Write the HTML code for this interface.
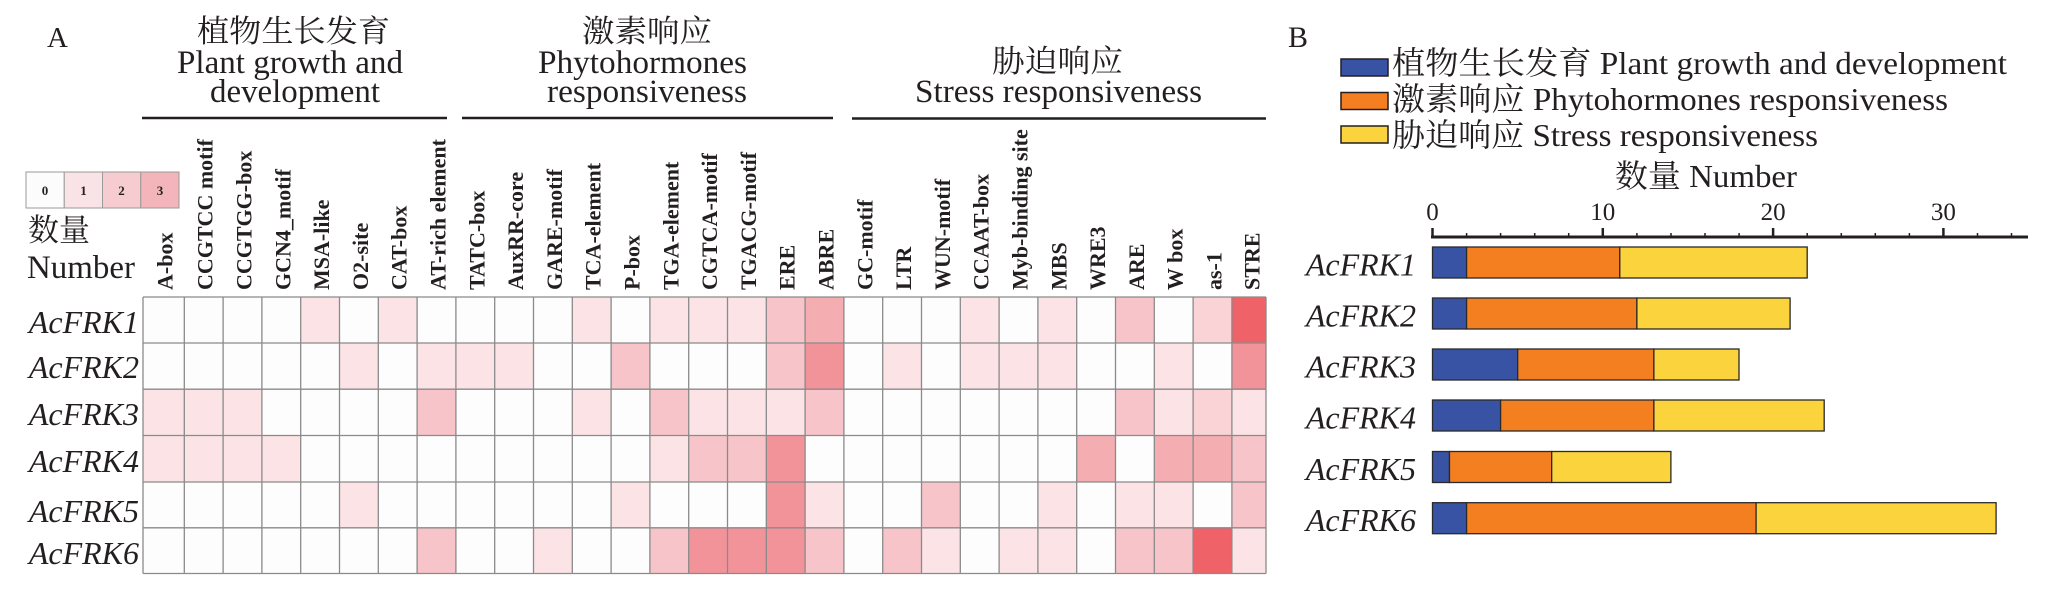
<!DOCTYPE html>
<html><head><meta charset="utf-8"><style>
html,body{margin:0;padding:0;background:#fff;}
svg{display:block;}
text{font-family:"Liberation Serif","Noto Serif CJK SC",serif;fill:#231f20;}
.cl{font-weight:bold;font-size:22px;}
.rl{font-style:italic;font-size:32px;}
.hd{font-size:33px;}
.cj{font-size:31px;}
</style></head><body>
<svg width="2046" height="598" viewBox="0 0 2046 598" xmlns="http://www.w3.org/2000/svg">
<rect width="2046" height="598" fill="#fff"/>
<!-- Panel A -->
<text x="47" y="47" font-size="29">A</text>
<!-- group headers -->
<text class="cj" x="197" y="42" textLength="193" lengthAdjust="spacingAndGlyphs">植物生长发育</text>
<text class="hd" x="290" y="73" text-anchor="middle" textLength="226" lengthAdjust="spacingAndGlyphs">Plant growth and</text>
<text class="hd" x="295" y="102" text-anchor="middle" textLength="170" lengthAdjust="spacingAndGlyphs">development</text>
<text class="cj" x="582" y="42" textLength="130" lengthAdjust="spacingAndGlyphs">激素响应</text>
<text class="hd" x="642.5" y="73" text-anchor="middle" textLength="209" lengthAdjust="spacingAndGlyphs">Phytohormones</text>
<text class="hd" x="647" y="102" text-anchor="middle" textLength="200" lengthAdjust="spacingAndGlyphs">responsiveness</text>
<text class="cj" x="992" y="72" textLength="131" lengthAdjust="spacingAndGlyphs">胁迫响应</text>
<text class="hd" x="1058.5" y="102" text-anchor="middle" textLength="287" lengthAdjust="spacingAndGlyphs">Stress responsiveness</text>
<g stroke="#231f20" stroke-width="2.5">
<line x1="142" y1="118" x2="447" y2="118"/>
<line x1="462" y1="118" x2="833" y2="118"/>
<line x1="852" y1="118.5" x2="1266" y2="118.5"/>
</g>
<!-- legend A -->
<g stroke="#9a9a9a" stroke-width="1">
<rect x="26" y="172" width="38.25" height="36" fill="#fdfcfc"/>
<rect x="64.25" y="172" width="38.25" height="36" fill="#fae3e6"/>
<rect x="102.5" y="172" width="38.25" height="36" fill="#f6ccd0"/>
<rect x="140.75" y="172" width="38.25" height="36" fill="#f3b5b9"/>
</g>
<g font-size="13" font-weight="bold" text-anchor="middle">
<text x="45" y="195">0</text><text x="83.5" y="195">1</text><text x="121.5" y="195">2</text><text x="160" y="195">3</text>
</g>
<text class="cj" x="28" y="241" textLength="62" lengthAdjust="spacingAndGlyphs">数量</text>
<text x="27" y="278" font-size="33" textLength="108" lengthAdjust="spacingAndGlyphs">Number</text>
<!-- column labels -->
<g class="cl">
<text transform="translate(172.6,290) rotate(-90)">A-box</text>
<text transform="translate(212.7,290) rotate(-90)">CCGTCC motif</text>
<text transform="translate(251.5,290) rotate(-90)">CCGTGG-box</text>
<text transform="translate(290.3,290) rotate(-90)">GCN4_motif</text>
<text transform="translate(329.1,290) rotate(-90)">MSA-like</text>
<text transform="translate(367.9,290) rotate(-90)">O2-site</text>
<text transform="translate(406.7,290) rotate(-90)">CAT-box</text>
<text transform="translate(445.5,290) rotate(-90)">AT-rich element</text>
<text transform="translate(484.3,290) rotate(-90)">TATC-box</text>
<text transform="translate(523.1,290) rotate(-90)">AuxRR-core</text>
<text transform="translate(561.9,290) rotate(-90)">GARE-motif</text>
<text transform="translate(600.7,290) rotate(-90)">TCA-element</text>
<text transform="translate(639.5,290) rotate(-90)">P-box</text>
<text transform="translate(678.3,290) rotate(-90)">TGA-element</text>
<text transform="translate(717.1,290) rotate(-90)">CGTCA-motif</text>
<text transform="translate(755.9,290) rotate(-90)">TGACG-motif</text>
<text transform="translate(794.7,290) rotate(-90)">ERE</text>
<text transform="translate(833.5,290) rotate(-90)">ABRE</text>
<text transform="translate(872.3,290) rotate(-90)">GC-motif</text>
<text transform="translate(911.1,290) rotate(-90)">LTR</text>
<text transform="translate(949.9,290) rotate(-90)">WUN-motif</text>
<text transform="translate(988.7,290) rotate(-90)">CCAAT-box</text>
<text transform="translate(1027.5,290) rotate(-90)">Myb-binding site</text>
<text transform="translate(1066.3,290) rotate(-90)">MBS</text>
<text transform="translate(1105.1,290) rotate(-90)">WRE3</text>
<text transform="translate(1143.9,290) rotate(-90)">ARE</text>
<text transform="translate(1182.7,290) rotate(-90)">W box</text>
<text transform="translate(1221.5,290) rotate(-90)">as-1</text>
<text transform="translate(1259.5,290) rotate(-90)">STRE</text>
</g>
<!-- row labels A -->
<g class="rl" text-anchor="end">
<text x="139" y="333">AcFRK1</text>
<text x="139" y="378">AcFRK2</text>
<text x="139" y="425">AcFRK3</text>
<text x="139" y="472">AcFRK4</text>
<text x="139" y="522">AcFRK5</text>
<text x="139" y="564">AcFRK6</text>
</g>
<!-- heatmap -->
<rect x="143" y="297" width="1123" height="276.5" fill="#fdfdfd"/>
<g>
<!-- row1 -->
<rect x="300.7" y="297" width="38.8" height="46" fill="#fbe3e6"/>
<rect x="378.3" y="297" width="38.8" height="46" fill="#fbe3e6"/>
<rect x="572.3" y="297" width="38.8" height="46" fill="#fbe3e6"/>
<rect x="649.9" y="297" width="38.8" height="46" fill="#fbe3e6"/>
<rect x="688.7" y="297" width="38.8" height="46" fill="#fbe3e6"/>
<rect x="727.5" y="297" width="38.8" height="46" fill="#fbe3e6"/>
<rect x="766.3" y="297" width="38.8" height="46" fill="#f7c5c9"/>
<rect x="805.1" y="297" width="38.8" height="46" fill="#f4adb1"/>
<rect x="960.3" y="297" width="38.8" height="46" fill="#fbe3e6"/>
<rect x="1037.9" y="297" width="38.8" height="46" fill="#fbe3e6"/>
<rect x="1115.5" y="297" width="38.8" height="46" fill="#f7c5c9"/>
<rect x="1193.1" y="297" width="38.8" height="46" fill="#f9d3d6"/>
<rect x="1231.9" y="297" width="34.1" height="46" fill="#ef6368"/>
<!-- row2 -->
<rect x="339.5" y="343" width="38.8" height="46.2" fill="#fbe3e6"/>
<rect x="417.1" y="343" width="38.8" height="46.2" fill="#fbe3e6"/>
<rect x="455.9" y="343" width="38.8" height="46.2" fill="#fbe3e6"/>
<rect x="494.7" y="343" width="38.8" height="46.2" fill="#fbe3e6"/>
<rect x="611.1" y="343" width="38.8" height="46.2" fill="#f7c5c9"/>
<rect x="766.3" y="343" width="38.8" height="46.2" fill="#f7c5c9"/>
<rect x="805.1" y="343" width="38.8" height="46.2" fill="#f2939a"/>
<rect x="882.7" y="343" width="38.8" height="46.2" fill="#fbe3e6"/>
<rect x="960.3" y="343" width="38.8" height="46.2" fill="#fbe3e6"/>
<rect x="999.1" y="343" width="38.8" height="46.2" fill="#fbe3e6"/>
<rect x="1037.9" y="343" width="38.8" height="46.2" fill="#fbe3e6"/>
<rect x="1154.3" y="343" width="38.8" height="46.2" fill="#fbe3e6"/>
<rect x="1231.9" y="343" width="34.1" height="46.2" fill="#f2939a"/>
<!-- row3 -->
<rect x="143" y="389.2" width="41.3" height="46.3" fill="#fbe3e6"/>
<rect x="184.3" y="389.2" width="38.8" height="46.3" fill="#fbe3e6"/>
<rect x="223.1" y="389.2" width="38.8" height="46.3" fill="#fbe3e6"/>
<rect x="417.1" y="389.2" width="38.8" height="46.3" fill="#f7c5c9"/>
<rect x="572.3" y="389.2" width="38.8" height="46.3" fill="#fbe3e6"/>
<rect x="649.9" y="389.2" width="38.8" height="46.3" fill="#f7c5c9"/>
<rect x="688.7" y="389.2" width="38.8" height="46.3" fill="#fbe3e6"/>
<rect x="727.5" y="389.2" width="38.8" height="46.3" fill="#fbe3e6"/>
<rect x="766.3" y="389.2" width="38.8" height="46.3" fill="#fbe3e6"/>
<rect x="805.1" y="389.2" width="38.8" height="46.3" fill="#f7c5c9"/>
<rect x="1115.5" y="389.2" width="38.8" height="46.3" fill="#f7c5c9"/>
<rect x="1154.3" y="389.2" width="38.8" height="46.3" fill="#fbe3e6"/>
<rect x="1193.1" y="389.2" width="38.8" height="46.3" fill="#f9d3d6"/>
<rect x="1231.9" y="389.2" width="34.1" height="46.3" fill="#fbe3e6"/>
<!-- row4 -->
<rect x="143" y="435.5" width="41.3" height="46.5" fill="#fbe3e6"/>
<rect x="184.3" y="435.5" width="38.8" height="46.5" fill="#fbe3e6"/>
<rect x="223.1" y="435.5" width="38.8" height="46.5" fill="#fbe3e6"/>
<rect x="261.9" y="435.5" width="38.8" height="46.5" fill="#fbe3e6"/>
<rect x="649.9" y="435.5" width="38.8" height="46.5" fill="#fbe3e6"/>
<rect x="688.7" y="435.5" width="38.8" height="46.5" fill="#f7c5c9"/>
<rect x="727.5" y="435.5" width="38.8" height="46.5" fill="#f7c5c9"/>
<rect x="766.3" y="435.5" width="38.8" height="46.5" fill="#f2939a"/>
<rect x="1076.7" y="435.5" width="38.8" height="46.5" fill="#f4adb1"/>
<rect x="1154.3" y="435.5" width="38.8" height="46.5" fill="#f4adb1"/>
<rect x="1193.1" y="435.5" width="38.8" height="46.5" fill="#f4adb1"/>
<rect x="1231.9" y="435.5" width="34.1" height="46.5" fill="#f7c5c9"/>
<!-- row5 -->
<rect x="339.5" y="482" width="38.8" height="45.8" fill="#fbe3e6"/>
<rect x="611.1" y="482" width="38.8" height="45.8" fill="#fbe3e6"/>
<rect x="766.3" y="482" width="38.8" height="45.8" fill="#f2939a"/>
<rect x="805.1" y="482" width="38.8" height="45.8" fill="#fbe3e6"/>
<rect x="921.5" y="482" width="38.8" height="45.8" fill="#f7c5c9"/>
<rect x="1037.9" y="482" width="38.8" height="45.8" fill="#fbe3e6"/>
<rect x="1115.5" y="482" width="38.8" height="45.8" fill="#fbe3e6"/>
<rect x="1154.3" y="482" width="38.8" height="45.8" fill="#fbe3e6"/>
<rect x="1231.9" y="482" width="34.1" height="45.8" fill="#f7c5c9"/>
<!-- row6 -->
<rect x="417.1" y="527.8" width="38.8" height="45.7" fill="#f7c5c9"/>
<rect x="533.5" y="527.8" width="38.8" height="45.7" fill="#fbe3e6"/>
<rect x="649.9" y="527.8" width="38.8" height="45.7" fill="#f7c5c9"/>
<rect x="688.7" y="527.8" width="38.8" height="45.7" fill="#f2939a"/>
<rect x="727.5" y="527.8" width="38.8" height="45.7" fill="#f2939a"/>
<rect x="766.3" y="527.8" width="38.8" height="45.7" fill="#f2939a"/>
<rect x="805.1" y="527.8" width="38.8" height="45.7" fill="#f7c5c9"/>
<rect x="882.7" y="527.8" width="38.8" height="45.7" fill="#f7c5c9"/>
<rect x="921.5" y="527.8" width="38.8" height="45.7" fill="#fbe3e6"/>
<rect x="999.1" y="527.8" width="38.8" height="45.7" fill="#fbe3e6"/>
<rect x="1037.9" y="527.8" width="38.8" height="45.7" fill="#fbe3e6"/>
<rect x="1115.5" y="527.8" width="38.8" height="45.7" fill="#f7c5c9"/>
<rect x="1154.3" y="527.8" width="38.8" height="45.7" fill="#f7c5c9"/>
<rect x="1193.1" y="527.8" width="38.8" height="45.7" fill="#ef6368"/>
<rect x="1231.9" y="527.8" width="34.1" height="45.7" fill="#fbe3e6"/>
</g>
<!-- grid lines -->
<g stroke="#8a8a8a" stroke-width="1.3">
<line x1="143" y1="297" x2="1266" y2="297"/>
<line x1="143" y1="343" x2="1266" y2="343"/>
<line x1="143" y1="389.2" x2="1266" y2="389.2"/>
<line x1="143" y1="435.5" x2="1266" y2="435.5"/>
<line x1="143" y1="482" x2="1266" y2="482"/>
<line x1="143" y1="527.8" x2="1266" y2="527.8"/>
<line x1="143" y1="573.5" x2="1266" y2="573.5"/>
<line x1="143" y1="297" x2="143" y2="573.5"/>
<line x1="184.3" y1="297" x2="184.3" y2="573.5"/>
<line x1="223.1" y1="297" x2="223.1" y2="573.5"/>
<line x1="261.9" y1="297" x2="261.9" y2="573.5"/>
<line x1="300.7" y1="297" x2="300.7" y2="573.5"/>
<line x1="339.5" y1="297" x2="339.5" y2="573.5"/>
<line x1="378.3" y1="297" x2="378.3" y2="573.5"/>
<line x1="417.1" y1="297" x2="417.1" y2="573.5"/>
<line x1="455.9" y1="297" x2="455.9" y2="573.5"/>
<line x1="494.7" y1="297" x2="494.7" y2="573.5"/>
<line x1="533.5" y1="297" x2="533.5" y2="573.5"/>
<line x1="572.3" y1="297" x2="572.3" y2="573.5"/>
<line x1="611.1" y1="297" x2="611.1" y2="573.5"/>
<line x1="649.9" y1="297" x2="649.9" y2="573.5"/>
<line x1="688.7" y1="297" x2="688.7" y2="573.5"/>
<line x1="727.5" y1="297" x2="727.5" y2="573.5"/>
<line x1="766.3" y1="297" x2="766.3" y2="573.5"/>
<line x1="805.1" y1="297" x2="805.1" y2="573.5"/>
<line x1="843.9" y1="297" x2="843.9" y2="573.5"/>
<line x1="882.7" y1="297" x2="882.7" y2="573.5"/>
<line x1="921.5" y1="297" x2="921.5" y2="573.5"/>
<line x1="960.3" y1="297" x2="960.3" y2="573.5"/>
<line x1="999.1" y1="297" x2="999.1" y2="573.5"/>
<line x1="1037.9" y1="297" x2="1037.9" y2="573.5"/>
<line x1="1076.7" y1="297" x2="1076.7" y2="573.5"/>
<line x1="1115.5" y1="297" x2="1115.5" y2="573.5"/>
<line x1="1154.3" y1="297" x2="1154.3" y2="573.5"/>
<line x1="1193.1" y1="297" x2="1193.1" y2="573.5"/>
<line x1="1231.9" y1="297" x2="1231.9" y2="573.5"/>
<line x1="1266" y1="297" x2="1266" y2="573.5"/>
</g>

<!-- Panel B -->
<text x="1288" y="47" font-size="30">B</text>
<g stroke="#231f20" stroke-width="1.5">
<rect x="1341" y="59" width="47" height="17" fill="#3953a4"/>
<rect x="1341" y="92.5" width="47" height="17" fill="#f47f20"/>
<rect x="1341" y="126" width="47" height="17" fill="#fbd33d"/>
</g>
<text x="1392" y="74" font-size="32" textLength="615" lengthAdjust="spacingAndGlyphs">植物生长发育 Plant growth and development</text>
<text x="1392" y="110" font-size="32" textLength="556" lengthAdjust="spacingAndGlyphs">激素响应 Phytohormones responsiveness</text>
<text x="1392" y="146" font-size="32" textLength="426" lengthAdjust="spacingAndGlyphs">胁迫响应 Stress responsiveness</text>
<text x="1615" y="187" font-size="32" textLength="182" lengthAdjust="spacingAndGlyphs">数量 Number</text>
<!-- ticks labels -->
<g font-size="25" text-anchor="middle">
<text x="1432.5" y="220">0</text>
<text x="1602.8" y="220">10</text>
<text x="1773.1" y="220">20</text>
<text x="1943.4" y="220">30</text>
</g>
<!-- axis -->
<g stroke="#231f20">
<line x1="1431" y1="237" x2="2028" y2="237" stroke-width="3"/>
<g stroke-width="2.5">
<line x1="1432.5" y1="228" x2="1432.5" y2="237"/>
<line x1="1602.8" y1="228" x2="1602.8" y2="237"/>
<line x1="1773.1" y1="228" x2="1773.1" y2="237"/>
<line x1="1943.4" y1="228" x2="1943.4" y2="237"/>
</g>
<g stroke-width="1.5">
<line x1="1466.6" y1="233" x2="1466.6" y2="237"/>
<line x1="1500.6" y1="233" x2="1500.6" y2="237"/>
<line x1="1534.7" y1="233" x2="1534.7" y2="237"/>
<line x1="1568.7" y1="233" x2="1568.7" y2="237"/>
<line x1="1636.9" y1="233" x2="1636.9" y2="237"/>
<line x1="1671.0" y1="233" x2="1671.0" y2="237"/>
<line x1="1705.0" y1="233" x2="1705.0" y2="237"/>
<line x1="1739.1" y1="233" x2="1739.1" y2="237"/>
<line x1="1807.2" y1="233" x2="1807.2" y2="237"/>
<line x1="1841.3" y1="233" x2="1841.3" y2="237"/>
<line x1="1875.3" y1="233" x2="1875.3" y2="237"/>
<line x1="1909.4" y1="233" x2="1909.4" y2="237"/>
<line x1="1977.5" y1="233" x2="1977.5" y2="237"/>
<line x1="2011.5" y1="233" x2="2011.5" y2="237"/>
</g>
</g>
<!-- bars -->
<g stroke="#2a2a2a" stroke-width="1.3">
<rect x="1432.5" y="247" width="34.1" height="31" fill="#3953a4"/>
<rect x="1466.6" y="247" width="153.2" height="31" fill="#f47f20"/>
<rect x="1619.8" y="247" width="187.4" height="31" fill="#fbd33d"/>

<rect x="1432.5" y="298" width="34.1" height="31" fill="#3953a4"/>
<rect x="1466.6" y="298" width="170.3" height="31" fill="#f47f20"/>
<rect x="1636.9" y="298" width="153.2" height="31" fill="#fbd33d"/>

<rect x="1432.5" y="349" width="85.2" height="31" fill="#3953a4"/>
<rect x="1517.7" y="349" width="136.2" height="31" fill="#f47f20"/>
<rect x="1653.9" y="349" width="85.1" height="31" fill="#fbd33d"/>

<rect x="1432.5" y="400" width="68.1" height="31" fill="#3953a4"/>
<rect x="1500.6" y="400" width="153.3" height="31" fill="#f47f20"/>
<rect x="1653.9" y="400" width="170.3" height="31" fill="#fbd33d"/>

<rect x="1432.5" y="451.5" width="17" height="31" fill="#3953a4"/>
<rect x="1449.5" y="451.5" width="102.2" height="31" fill="#f47f20"/>
<rect x="1551.7" y="451.5" width="119.2" height="31" fill="#fbd33d"/>

<rect x="1432.5" y="502.7" width="34.1" height="31" fill="#3953a4"/>
<rect x="1466.6" y="502.7" width="289.5" height="31" fill="#f47f20"/>
<rect x="1756.1" y="502.7" width="240" height="31" fill="#fbd33d"/>
</g>
<g class="rl" text-anchor="end">
<text x="1416" y="275.5">AcFRK1</text>
<text x="1416" y="326.5">AcFRK2</text>
<text x="1416" y="377.5">AcFRK3</text>
<text x="1416" y="428.5">AcFRK4</text>
<text x="1416" y="480">AcFRK5</text>
<text x="1416" y="531">AcFRK6</text>
</g>
</svg>
</body></html>
